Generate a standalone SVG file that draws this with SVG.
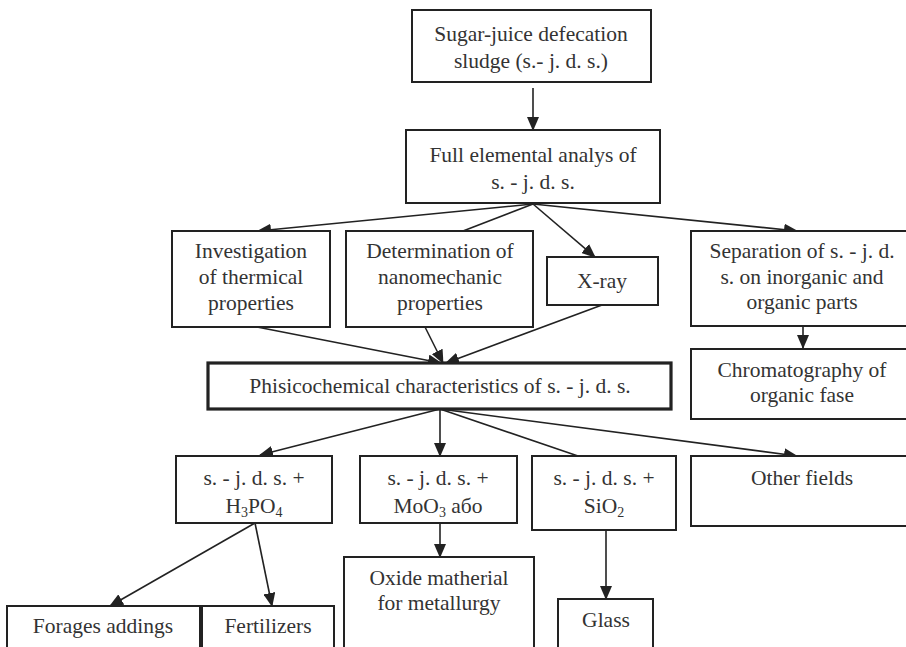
<svg xmlns="http://www.w3.org/2000/svg" width="906" height="647" viewBox="0 0 906 647">
<style>
.box{fill:#fff;stroke:#222;stroke-width:2}
.thick{stroke-width:3.2}
text{font-family:"Liberation Serif","Times New Roman",serif;font-size:21.5px;fill:#333;text-anchor:middle}
.sub{font-size:14px}
.c line{stroke:#222;stroke-width:1.6}
</style>
<defs>
<marker id="ah" markerUnits="userSpaceOnUse" markerWidth="14" markerHeight="12" refX="13" refY="6" orient="auto">
<path d="M0,0 L14,6 L0,12 Z" fill="#222"/>
</marker>
</defs>
<rect width="906" height="647" fill="#fff"/>

<g class="c" id="connectors">
<line x1="533" y1="88" x2="533" y2="130" marker-end="url(#ah)"/>
<line x1="533" y1="204" x2="258" y2="231" marker-end="url(#ah)"/>
<line x1="533" y1="204" x2="463" y2="231"/>
<line x1="533" y1="204" x2="595" y2="257" marker-end="url(#ah)"/>
<line x1="533" y1="204" x2="797" y2="231" marker-end="url(#ah)"/>
<line x1="803" y1="326" x2="803" y2="348" marker-end="url(#ah)"/>
<line x1="257" y1="327" x2="441" y2="363" marker-end="url(#ah)"/>
<line x1="425" y1="327" x2="443" y2="363" marker-end="url(#ah)"/>
<line x1="602" y1="305" x2="446" y2="363" marker-end="url(#ah)"/>
<line x1="440" y1="409" x2="260" y2="455" marker-end="url(#ah)"/>
<line x1="440" y1="409" x2="440" y2="456" marker-end="url(#ah)"/>
<line x1="440" y1="409" x2="578" y2="456"/>
<line x1="440" y1="409" x2="797" y2="456" marker-end="url(#ah)"/>
<line x1="255" y1="523" x2="110" y2="606" marker-end="url(#ah)"/>
<line x1="255" y1="523" x2="272" y2="606" marker-end="url(#ah)"/>
<line x1="440" y1="523" x2="440" y2="557" marker-end="url(#ah)"/>
<line x1="606" y1="530" x2="606" y2="599" marker-end="url(#ah)"/>
</g>

<g id="n_sludge"><rect class="box" x="412" y="10" width="239" height="72"/>
<text x="531" y="41">Sugar-juice defecation</text><text x="531" y="68">sludge (s.- j. d. s.)</text></g>

<g id="n_full"><rect class="box" x="406" y="130" width="254" height="73"/>
<text x="533" y="162">Full elemental analys of</text><text x="533" y="189">s. - j. d. s.</text></g>

<g id="n_thermal"><rect class="box" x="172" y="231" width="158" height="96"/>
<text x="251" y="258">Investigation</text><text x="251" y="284">of thermical</text><text x="251" y="310">properties</text></g>

<g id="n_nano"><rect class="box" x="346" y="231" width="187" height="96"/>
<text x="440" y="258">Determination of</text><text x="440" y="284">nanomechanic</text><text x="440" y="310">properties</text></g>

<g id="n_xray"><rect class="box" x="547" y="257" width="111" height="48"/>
<text x="602" y="288">X-ray</text></g>

<g id="n_sep"><rect class="box" x="691" y="231" width="230" height="95"/>
<text x="802" y="258">Separation of s. - j. d.</text><text x="802" y="284">s. on inorganic and</text><text x="802" y="309">organic parts</text></g>

<g id="n_chrom"><rect class="box" x="691" y="349" width="230" height="70"/>
<text x="802" y="377">Chromatography of</text><text x="802" y="402">organic fase</text></g>

<g id="n_phys"><rect class="box thick" x="208" y="363" width="463" height="46"/>
<text x="440" y="393">Phisicochemical characteristics of s. - j. d. s.</text></g>

<g id="n_h3po4"><rect class="box" x="176" y="456" width="156" height="67"/>
<text x="254" y="485">s. - j. d. s. +</text><text x="254" y="513">H<tspan class="sub" dy="4">3</tspan><tspan dy="-4">PO</tspan><tspan class="sub" dy="4">4</tspan></text></g>

<g id="n_moo3"><rect class="box" x="360" y="456" width="157" height="67"/>
<text x="438" y="485">s. - j. d. s. +</text><text x="438" y="513">MoO<tspan class="sub" dy="4">3</tspan><tspan dy="-4"> або</tspan></text></g>

<g id="n_sio2"><rect class="box" x="532" y="456" width="144" height="74"/>
<text x="604" y="485">s. - j. d. s. +</text><text x="604" y="513">SiO<tspan class="sub" dy="4">2</tspan></text></g>

<g id="n_other"><rect class="box" x="691" y="456" width="230" height="70"/>
<text x="802" y="485">Other fields</text></g>

<g id="n_oxide"><rect class="box" x="344" y="557" width="190" height="100"/>
<text x="439" y="585">Oxide matherial</text><text x="439" y="610">for metallurgy</text></g>

<g id="n_glass"><rect class="box" x="558" y="599" width="95" height="60"/>
<text x="606" y="627">Glass</text></g>

<g id="n_forages"><rect class="box" x="7" y="606" width="193" height="60"/>
<text x="103" y="633">Forages addings</text></g>

<g id="n_fert"><rect class="box" x="202" y="606" width="132" height="60"/>
<text x="268" y="633">Fertilizers</text></g>
</svg>
